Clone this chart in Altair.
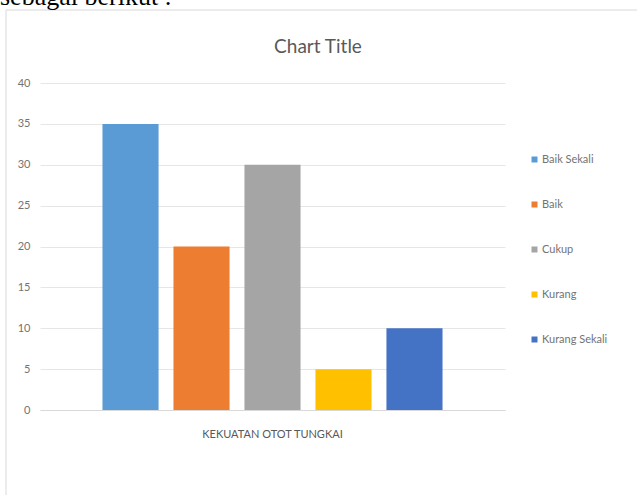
import altair as alt
import pandas as pd

kategori = ["KEKUATAN OTOT TUNGKAI"] * 5
seri = ["Baik Sekali", "Baik", "Cukup", "Kurang", "Kurang Sekali"]
nilai = [35, 20, 30, 5, 10]
warna = ["#5B9BD5", "#ED7D31", "#A5A5A5", "#FFC000", "#4472C4"]
y_ticks = [0, 5, 10, 15, 20, 25, 30, 35, 40]

df = pd.DataFrame({"kategori": kategori, "seri": seri, "nilai": nilai})

FONT = "Lato"
GRAY = "#595959"
LGRAY = "#737373"

W, H = 465, 327
PAD_L, PAD_T = 40, 83

frame = alt.Chart(pd.DataFrame({"a": [0]})).mark_rect(
    filled=False, stroke="#d9d9d9", strokeWidth=1
).encode(
    x=alt.value(6 - PAD_L), x2=alt.value(640 - PAD_L),
    y=alt.value(10 - PAD_T), y2=alt.value(498 - PAD_T)
)

bars = alt.Chart(df).mark_bar().encode(
    x=alt.X("kategori:N", title=None,
            scale=alt.Scale(paddingInner=0, paddingOuter=0),
            axis=alt.Axis(labelAngle=0, labelColor=GRAY, labelFont=FONT,
                          labelFontSize=11, ticks=False, grid=False,
                          domainColor="#d9d9d9", labelPadding=18)),
    xOffset=alt.XOffset("seri:N", sort=seri,
                        scale=alt.Scale(paddingInner=0.21, paddingOuter=0.88)),
    y=alt.Y("nilai:Q", title=None,
            scale=alt.Scale(domain=[0, 40]),
            axis=alt.Axis(values=y_ticks, labelColor=LGRAY, labelFont=FONT,
                          labelFontSize=11, ticks=False, domain=False,
                          gridColor="#e6e6e6", labelPadding=10)),
    color=alt.Color("seri:N", sort=seri, title=None,
                    scale=alt.Scale(domain=seri, range=warna),
                    legend=alt.Legend(orient="none", legendX=489, legendY=71,
                                      symbolType="square", symbolSize=36,
                                      symbolStrokeWidth=0,
                                      labelFont=FONT, labelFontSize=11,
                                      labelColor=LGRAY, rowPadding=33,
                                      labelOffset=2)),
)

title = alt.Chart(pd.DataFrame({"t": ["Chart Title"]})).mark_text(
    font=FONT, fontSize=19, color=GRAY, align="center", baseline="middle"
).encode(text="t:N", x=alt.value(318 - PAD_L), y=alt.value(47 - PAD_T))

intro = alt.Chart(pd.DataFrame({"t": ["sebagai berikut :"]})).mark_text(
    font="Liberation Serif", fontSize=26, color="black", align="left",
    baseline="alphabetic"
).encode(text="t:N", x=alt.value(0 - PAD_L), y=alt.value(5 - PAD_T))

chart = alt.layer(frame, bars, title, intro).properties(
    width=W, height=H,
    background="white",
    autosize=alt.AutoSizeParams(type="none"),
    padding={"left": PAD_L, "top": PAD_T, "right": 637 - PAD_L - W,
             "bottom": 495 - PAD_T - H},
).configure_view(strokeWidth=0, stroke=None)

chart.save("out.html", embed_options={"renderer": "svg", "actions": False})
